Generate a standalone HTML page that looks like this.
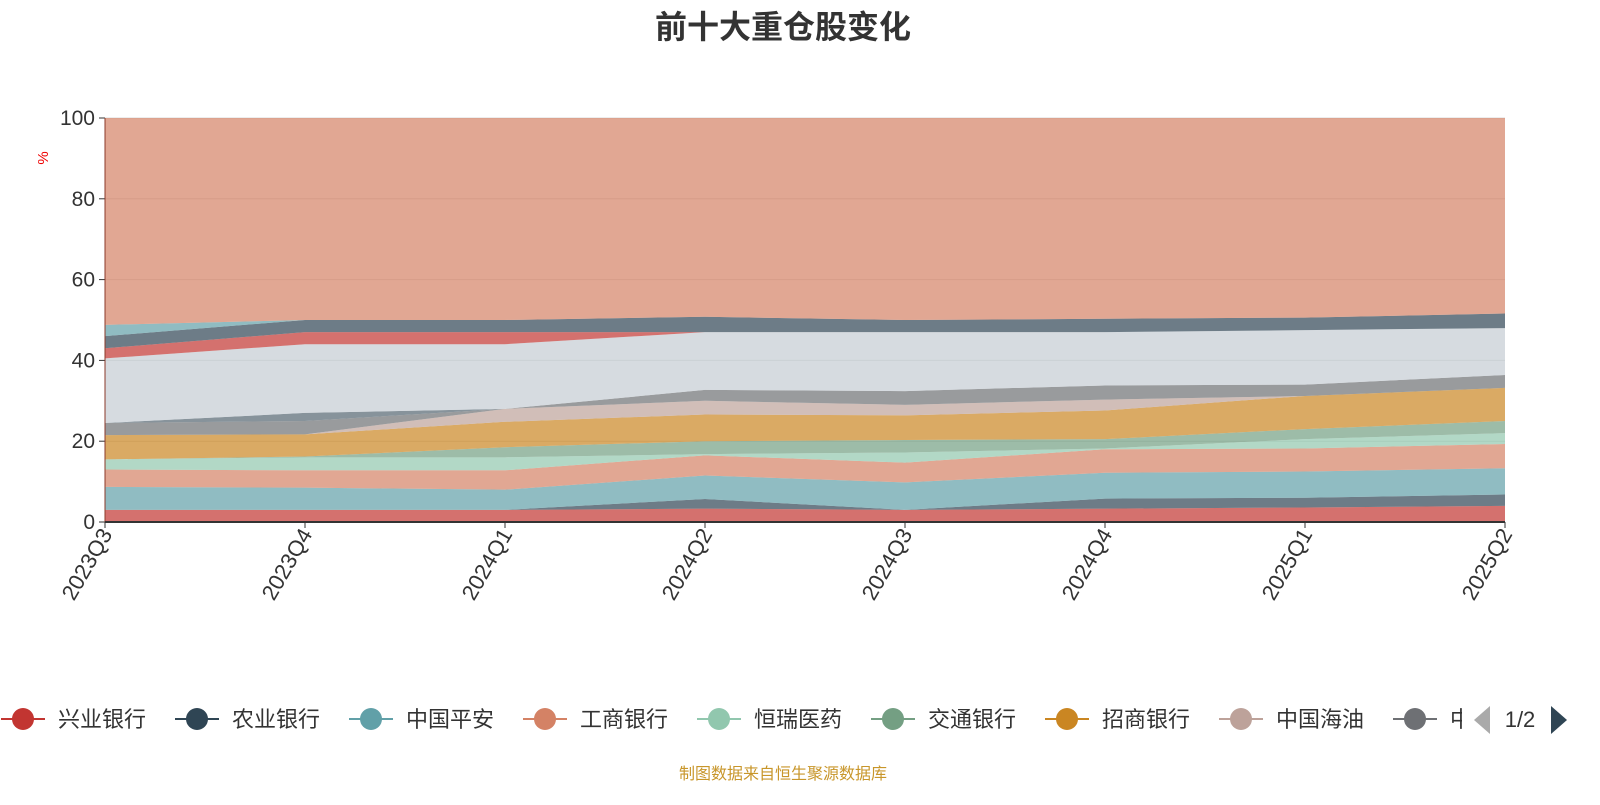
<!DOCTYPE html>
<html><head><meta charset="utf-8"><style>
body{margin:0;background:#fff;}
svg text{font-family:"Liberation Sans","Noto Sans CJK SC",sans-serif;}
</style></head><body>
<svg id="chart" width="1600" height="800" viewBox="0 0 1600 800" xmlns="http://www.w3.org/2000/svg">
<text x="783" y="38" text-anchor="middle" font-size="32" font-weight="bold" fill="#333">前十大重仓股变化</text>
<text x="0" y="0" transform="translate(48,158) rotate(-90)" text-anchor="middle" font-size="15" fill="#e00">%</text>
<g id="grid"></g><g id="areas"></g><g id="axes"></g><g id="legend"></g>
<text x="783" y="779" text-anchor="middle" font-size="16" fill="#c8962a">制图数据来自恒生聚源数据库</text>
</svg>
<script>
const categories=["2023Q3","2023Q4","2024Q1","2024Q2","2024Q3","2024Q4","2025Q1","2025Q2"];
const seriesNames=["兴业银行","农业银行","中国平安","工商银行","恒瑞医药","交通银行","招商银行","中国海油","中国石油","建设银行","其他A","其他B","其他C","其他D","其他"];
const s1=[3,3,3,3.3,3,3.3,3.6,4];
const s2=[0,0,0,2.4,0,2.5,2.4,2.8];
const s3=[5.7,5.5,5,5.8,6.8,6.4,6.5,6.5];
const s4=[4.3,4.3,4.8,5,4.9,5.8,5.7,6];
const s5=[2.5,3.2,3.2,0.3,2.5,0.2,2.3,2.7];
const s6=[0,0.2,2.5,3.2,3.1,2.3,2.5,3];
const s7=[6,5.5,6.3,6.6,6.1,7.1,8.2,8.2];
const s8=[0,0,3.2,3.4,2.6,2.7,0,0];
const s9=[3,3.3,0,2.7,3.4,3.5,2.8,3.2];
const s10=[0,2,0,0,0,0,0,0];
const s11=[16,17,16,14.3,14.6,13.2,13.5,11.6];
const s12=[2.5,3,3,0,0,0,0,0];
const s13=[3,3,3,3.8,3,3.3,3.1,3.6];
const s14=[2.8,0,0,0,0,0,0,0];
const s15=[51.2,50,50,49.2,50,49.7,49.4,48.4];
const seriesValues=[s1,s2,s3,s4,s5,s6,s7,s8,s9,s10,s11,s12,s13,s14,s15];
const yTicks=[0,20,40,60,80,100];
const colors=["#c23531","#2f4554","#61a0a8","#d48265","#91c7ae","#749f83","#ca8622","#bda29a","#6e7074","#546570","#c4ccd3","#c23531","#2f4554","#61a0a8","#d48265"];
const NS="http://www.w3.org/2000/svg";
const X0=105,X1=1505,Y0=522,Y1=118;
const xs=i=>X0+(X1-X0)*i/(categories.length-1);
const ys=v=>Y0-(Y0-Y1)*v/100;
function mk(t,a,p){const e=document.createElementNS(NS,t);for(const k in a)e.setAttribute(k,a[k]);p.appendChild(e);return e;}
const grid=document.getElementById('grid'),areas=document.getElementById('areas'),axes=document.getElementById('axes'),legend=document.getElementById('legend');
let base=categories.map(()=>0);
seriesValues.forEach((vals,si)=>{
  const top=base.map((b,i)=>b+vals[i]);
  let d="M"+top.map((v,i)=>xs(i)+","+ys(v)).join("L");
  for(let i=categories.length-1;i>=0;i--)d+="L"+xs(i)+","+ys(base[i]);
  const p=mk('path',{d:d+"Z",fill:colors[si],'fill-opacity':0.7},areas);
  
  
  base=top;
});
yTicks.forEach(t=>{
  if(t>0){const l=mk('line',{x1:X0,x2:X1,y1:ys(t),y2:ys(t),stroke:'#999','stroke-opacity':0.35},grid);
  
  }
  const tk=mk('line',{x1:X0-6,x2:X0,y1:ys(t),y2:ys(t),stroke:'#333'},axes);
  
  
  const tx=mk('text',{x:X0-10,y:ys(t)+7,'text-anchor':'end','font-size':21,fill:'#333'},axes);
  tx.textContent=t;
  
  
});
const ya=mk('line',{x1:X0,x2:X0,y1:Y1,y2:Y0,stroke:'#8b3a2a'},axes);


const xa=mk('line',{x1:X0,x2:X1,y1:Y0,y2:Y0,stroke:'#333','stroke-width':2},axes);


categories.forEach((c,i)=>{
  const tk=mk('line',{x1:xs(i),x2:xs(i),y1:Y0,y2:Y0+6,stroke:'#333'},axes);
  
  
  const tx=mk('text',{x:0,y:0,transform:`translate(${xs(i)+8},${Y0+12}) rotate(-60)`,'text-anchor':'end','font-size':22,fill:'#333'},axes);
  tx.textContent=c;
  
  
});
for(let i=0;i<9;i++){
  const g=mk('g',{},legend);
  
  
  const x=i*174;
  mk('line',{x1:x+1,x2:x+45,y1:719,y2:719,stroke:colors[i],'stroke-width':2},g);
  mk('circle',{cx:x+23,cy:719,r:11,fill:colors[i]},g);
  const t=mk('text',{x:x+58,y:727,'font-size':22,fill:'#333'},g);
  t.textContent=seriesNames[i];
}
const cp=mk('clipPath',{id:'lc'},legend);mk('rect',{x:0,y:690,width:1462,height:60},cp);
const lastEntry=legend.children[8];lastEntry.setAttribute('clip-path','url(#lc)');
const prev=mk('path',{d:'M1490,706 L1474,720 L1490,734 Z',fill:'#aaa'},legend);


const pg=mk('text',{x:1520,y:727,'text-anchor':'middle','font-size':22,fill:'#333'},legend);
pg.textContent='1/2';


const next=mk('path',{d:'M1551,706 L1567,720 L1551,734 Z',fill:'#2f4554'},legend);


</script>
</body></html>
